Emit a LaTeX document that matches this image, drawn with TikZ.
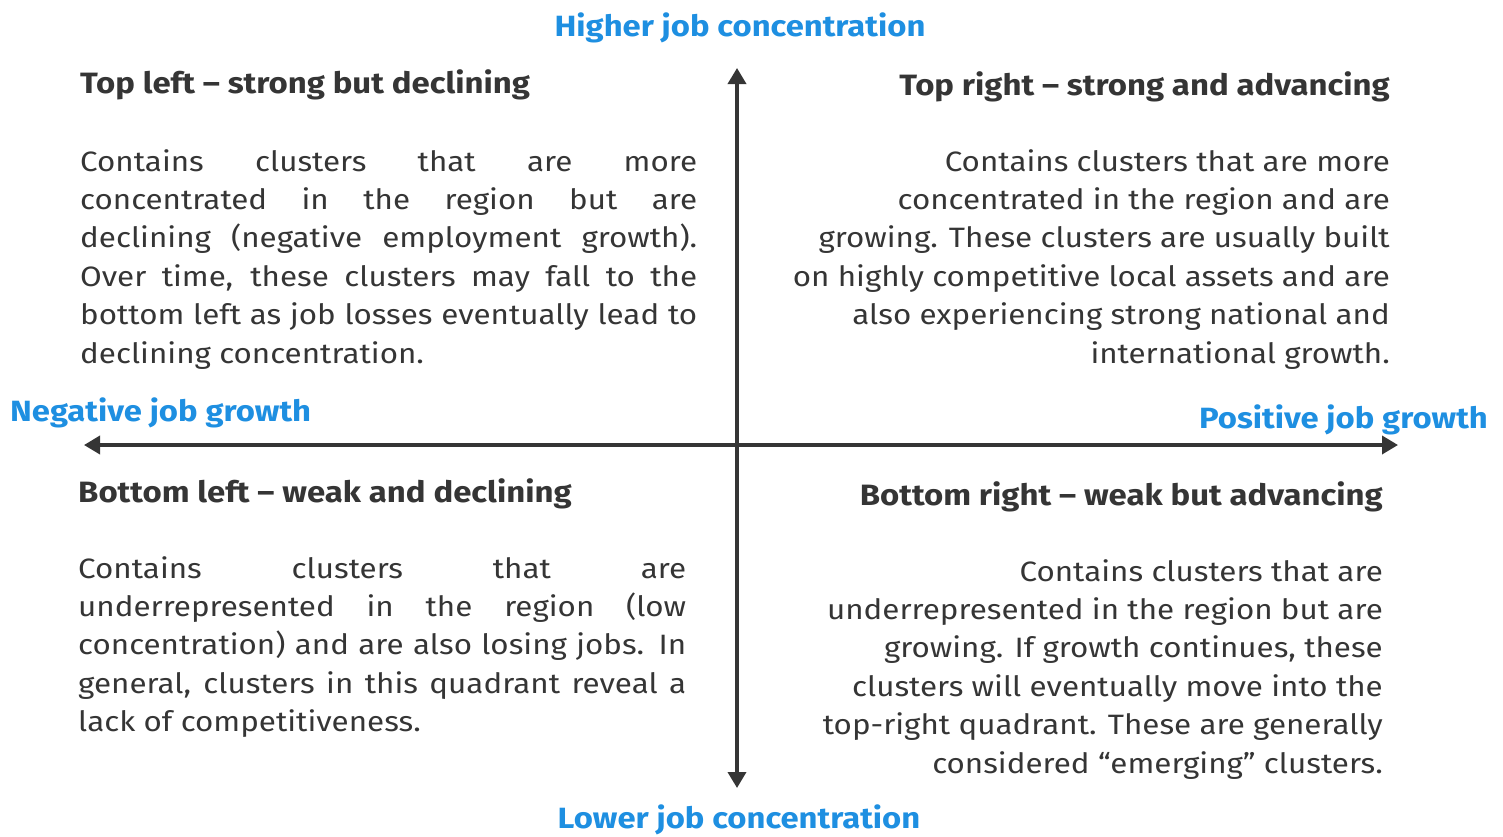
\documentclass[tikz,border=0pt]{standalone}
\usepackage{fontspec}
\setmainfont{Fira Sans}[FakeStretch=1.12]
\usetikzlibrary{arrows.meta}
\definecolor{axisblue}{HTML}{1E8FE1}
\definecolor{ink}{HTML}{353535}
\tikzset{
  axislabel/.style={text=axisblue, font=\fontsize{29.3}{32}\selectfont\bfseries, inner sep=0pt},
  heading/.style={text=ink, font=\fontsize{29.4}{32}\selectfont\bfseries, inner sep=0pt},
  bodyl/.style={text=ink, font=\fontsize{28}{38.4}\selectfont, inner sep=0pt, align=justify, anchor=north west},
  bodyr/.style={text=ink, font=\fontsize{28}{38.4}\selectfont, inner sep=0pt, align=right, anchor=north east},
  axis/.style={ink, line width=3.6pt, -{Triangle[length=16pt,width=18pt]}}
}
\begin{document}
\begin{tikzpicture}[x=1pt,y=-1pt]
\useasboundingbox (0,0) rectangle (1503,836);
% axes
\coordinate (c) at (737,445);
\coordinate (top) at (737,68);
\coordinate (bot) at (737,788);
\coordinate (left) at (84,445);
\coordinate (right) at (1398,445);
\draw[axis] (c) -- (top);
\draw[axis] (c) -- (bot);
\draw[axis] (c) -- (left);
\draw[axis] (c) -- (right);
% axis labels
\node[axislabel] (hi) at (740,28) {Higher job concentration};
\node[axislabel] (lo) at (739,820) {Lower job concentration};
\node[axislabel, anchor=west] (neg) at (10,413) {Negative job growth};
\node[axislabel, anchor=east] (pos) at (1488,420) {Positive job growth};
% headings
\node[heading, anchor=west] (tlh) at (80,85) {Top left – strong but declining};
\node[heading, anchor=east] (trh) at (1390,87) {Top right – strong and advancing};
\node[heading, anchor=west] (blh) at (78,494) {Bottom left – weak and declining};
\node[heading, anchor=east] (brh) at (1383,497) {Bottom right – weak but advancing};
% bodies
\node[bodyl, text width=617pt] (tlb) at (80,149) {Contains clusters that are more\linebreak
concentrated in the region but are\linebreak
declining (negative employment growth).\linebreak
Over time, these clusters may fall to the\linebreak
bottom left as job losses eventually lead to\linebreak
declining concentration.};
\node[bodyr] (trb) at (1390,149) {Contains clusters that are more\\
concentrated in the region and are\\
growing. These clusters are usually built\\
on highly competitive local assets and are\\
also experiencing strong national and\\
international growth.};
\node[bodyl, text width=608pt] (blb) at (78,556) {Contains clusters that are\linebreak
underrepresented in the region (low\linebreak
concentration) and are also losing jobs. In\linebreak
general, clusters in this quadrant reveal a\linebreak
lack of competitiveness.};
\node[bodyr] (brb) at (1383,559) {Contains clusters that are\\
underrepresented in the region but are\\
growing. If growth continues, these\\
clusters will eventually move into the\\
top-right quadrant. These are generally\\
considered “emerging” clusters.};
\end{tikzpicture}
\end{document}
